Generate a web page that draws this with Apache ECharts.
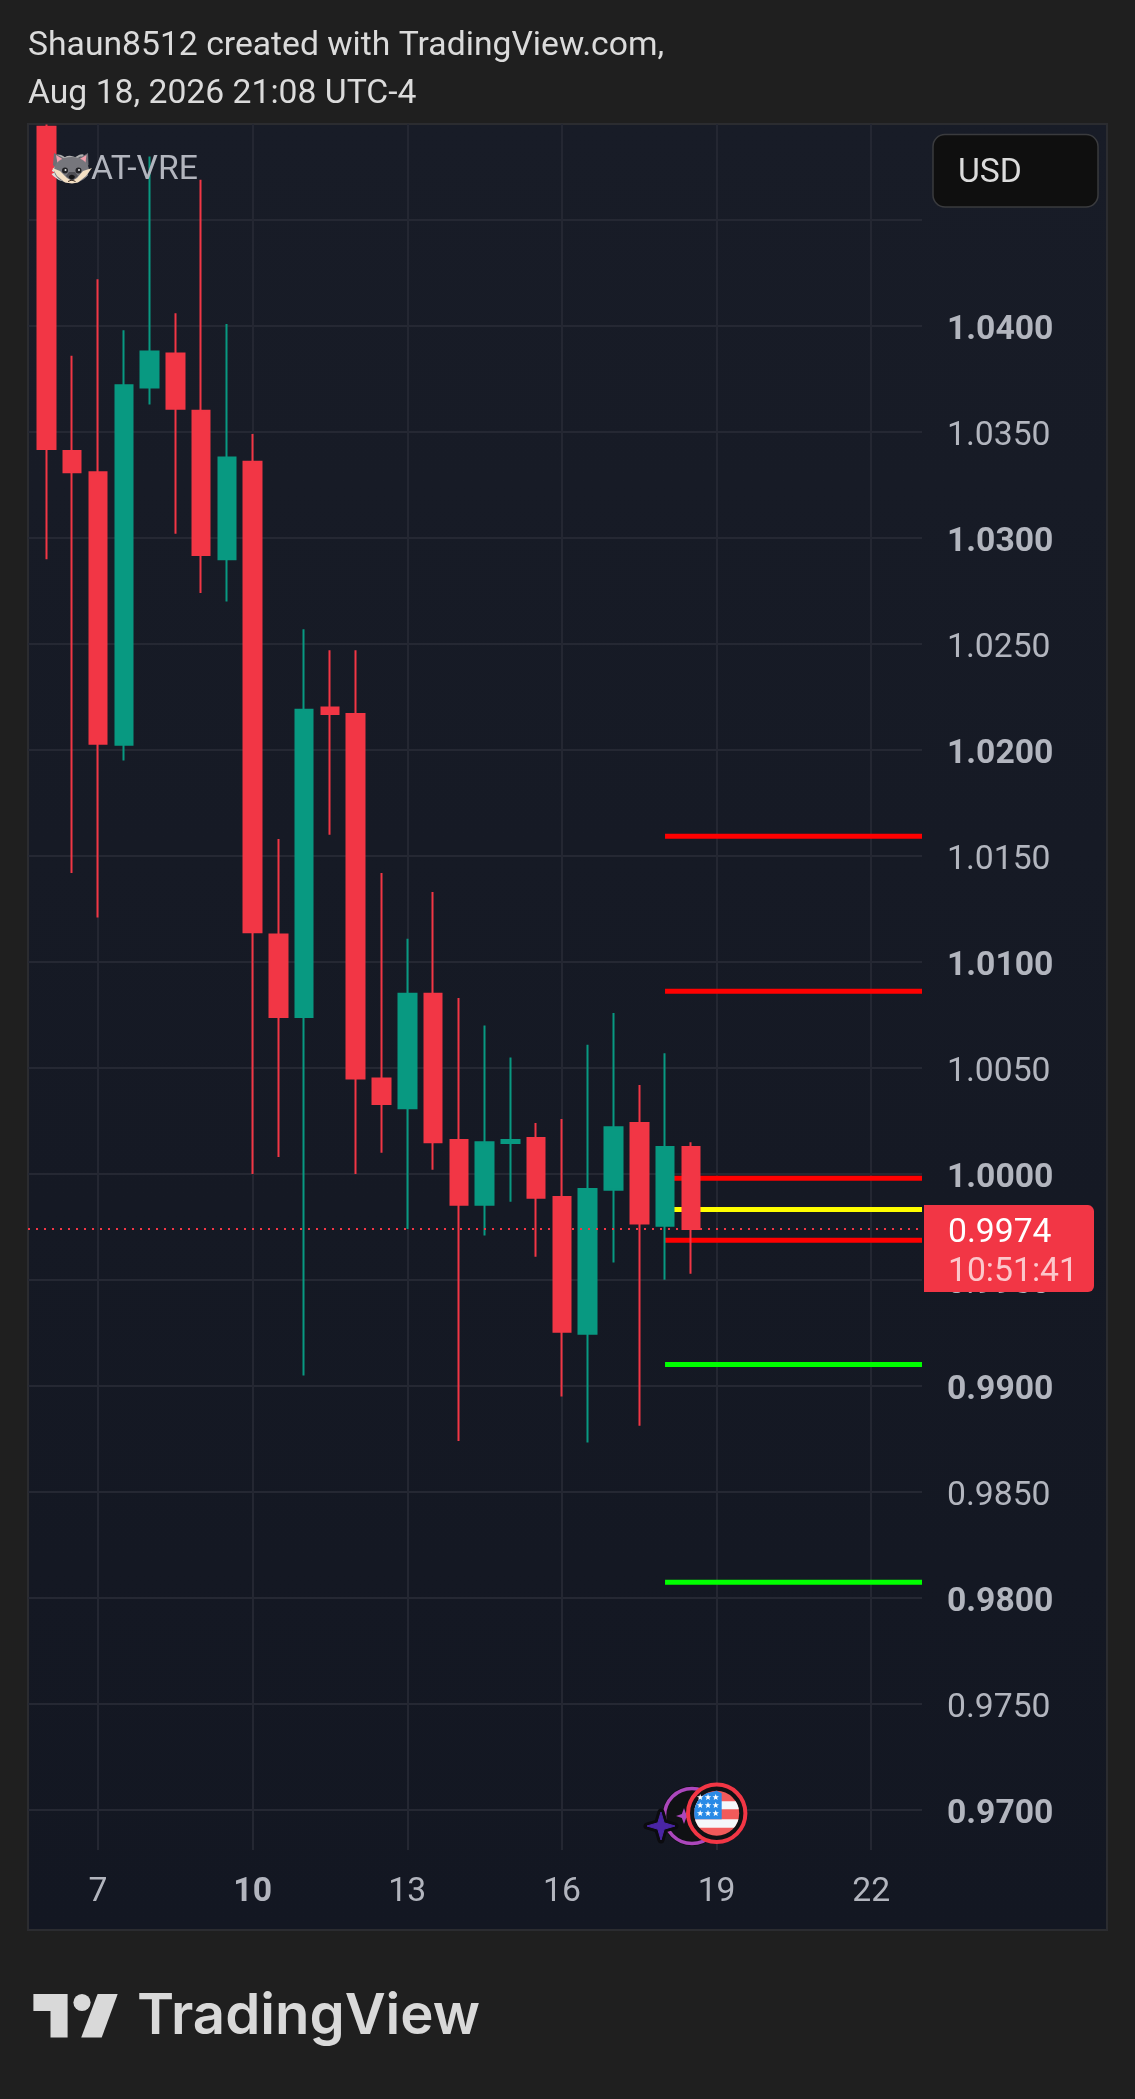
<!DOCTYPE html>
<html><head><meta charset="utf-8">
<style>html,body{margin:0;padding:0;background:#1f1f1f}#c{width:1135px;height:2099px}</style>
<script src="https://cdn.jsdelivr.net/npm/echarts@6/dist/echarts.min.js"></script>
</head><body><div id="c"></div>
<script>
// 12-hour candles, x position in days of the month
const days   = [6,6.5,7,7.5,8,8.5,9,9.5,10,10.5,11,11.5,12,12.5,13,13.5,14,14.5,15,15.5,16,16.5,17,17.5,18,18.5];
const opens  = [1.0494,1.0341,1.0331,1.02025,1.0371,1.0387,1.0360,1.0290,1.0336,1.0113,1.0074,1.0220,1.0217,1.0045,1.0031,1.0085,1.0016,0.99855,1.00146,1.0017,0.99892,0.99247,0.99926,1.0024,0.99756,1.00127];
const closes = [1.0342,1.0331,1.0203,1.0372,1.0388,1.0361,1.0292,1.0338,1.0114,1.0074,1.0219,1.0217,1.0045,1.0033,1.0085,1.0015,0.99855,1.0015,1.0016,0.99888,0.99256,0.99929,1.0022,0.99766,1.00127,0.9974];
const lows   = [1.0290,1.0142,1.0121,1.0195,1.0363,1.0302,1.0274,1.0270,1.0000,1.0008,0.9905,1.0160,1.0000,1.0010,0.9974,1.0002,0.9874,0.9971,0.99869,0.9961,0.9895,0.98733,0.99582,0.98813,0.99501,0.9953];
const highs  = [1.0495,1.0386,1.0422,1.0398,1.0480,1.0406,1.0469,1.0401,1.0349,1.0158,1.0257,1.0247,1.0247,1.0142,1.0111,1.0133,1.0083,1.0070,1.0055,1.0024,1.0026,1.0061,1.0076,1.0042,1.0057,1.0015];
const dayTicks = [7,10,13,16,19,22];
const boldDay = 10;
const priceTicks = [0.97,0.975,0.98,0.985,0.99,0.995,1.0,1.005,1.01,1.015,1.02,1.025,1.03,1.035,1.04];
const redLevels = [1.01593,1.00862,0.9998,0.99687];
const yellowLevels = [0.99833];
const greenLevels = [0.99102,0.98074];
const levelStart = 18, paneLeftDay = 5.642, paneRightDay = 22.985;
const paneTopPrice = 1.04953, paneBottomPrice = 0.96811;
const lastPrice = 0.9974;
const lastPriceText = '0.9974', countdownText = '10:51:41';
const titleLines = ['Shaun8512 created with TradingView.com,','Aug 18, 2026 21:08 UTC-4'];
const symbolText = '\u{1F99D}AT-VRE';
const currencyText = 'USD';
const logoText = 'TradingView';

const FONT = 'Roboto, sans-serif';
const FS = 33.7;
const chart = echarts.init(document.getElementById('c'), null, {renderer:'canvas'});
const levelSeries = (vals,color)=>vals.map(v=>({
  type:'line',z:3,silent:true,symbol:'none',animation:false,clip:true,
  lineStyle:{color,width:5,cap:'butt'},
  data:[[levelStart,v],[paneRightDay,v]]
}));
const option = {
  animation:false,
  backgroundColor:'#1f1f1f',
  grid:{left:28,width:894,top:114,height:1802,containLabel:false},
  xAxis:{type:'value',min:paneLeftDay,max:paneRightDay,
    axisLine:{show:false},axisTick:{show:false},splitLine:{show:false},
    axisLabel:{customValues:dayTicks,inside:true,margin:23,verticalAlign:'middle',showMinLabel:true,showMaxLabel:true,
      hideOverlap:false,
      formatter:v=>v===boldDay?`{b|${v}}`:`{r|${v}}`,
      rich:{b:{fontFamily:FONT,fontSize:FS,fontWeight:700,color:'#b2b5be'},
            r:{fontFamily:FONT,fontSize:FS,fontWeight:400,color:'#b2b5be'}}}},
  yAxis:{type:'value',position:'right',min:0.965,max:1.05,interval:0.005,
    axisLine:{show:false},axisTick:{show:false},
    splitLine:{show:true,showMinLine:false,showMaxLine:false,lineStyle:{color:'#252833',width:2}},
    axisLabel:{customValues:priceTicks,margin:25,align:'left',
      formatter:v=>{const bold=Math.round(v*10000)%100===0;return `{${bold?'b':'r'}|${v.toFixed(4)}}`;},
      rich:{b:{fontFamily:FONT,fontSize:FS,fontWeight:700,color:'#b2b5be',padding:[10,0,0,0]},
            r:{fontFamily:FONT,fontSize:FS,fontWeight:400,color:'#b2b5be',padding:[10,0,0,0]}}}},
  series:[
    {type:'line',z:1,silent:true,symbol:'none',data:[],
     markLine:{silent:true,symbol:'none',animation:false,label:{show:false},z:1,
       lineStyle:{color:'#242732',width:2,type:'solid'},
       data:dayTicks.map(d=>[{coord:[d,paneTopPrice]},{coord:[d,paneBottomPrice]}])}},
    ...levelSeries(redLevels,'#ff0000'),
    ...levelSeries(yellowLevels,'#ffff00'),
    ...levelSeries(greenLevels,'#00ff00'),
    {type:'candlestick',z:5,silent:true,clip:true,barWidth:18,
     encode:{x:0,y:[1,2,3,4]},
     itemStyle:{color:'#089981',color0:'#f23645',borderColor:'#089981',borderColor0:'#f23645',borderWidth:2},
     data:days.map((d,i)=>[d,opens[i],closes[i],lows[i],highs[i]])},
    {type:'line',z:6,silent:true,symbol:'none',
     lineStyle:{color:'#f23645',width:2,type:[2,6]},
     data:[[paneLeftDay,lastPrice],[paneRightDay,lastPrice]]}
  ]
};
chart.setOption(option);

const py = chart.convertToPixel({yAxisIndex:0},lastPrice);
function chord(cx,cy,r,y0,y1,xMax){ // polygon of a circle slice between y offsets
  const pts=[];const n=12;
  for(let i=0;i<=n;i++){const y=y0+(y1-y0)*i/n;const h=Math.sqrt(Math.max(0,r*r-y*y));pts.push([cx+(xMax!==undefined?Math.min(h,xMax):h),cy+y]);}
  for(let i=n;i>=0;i--){const y=y0+(y1-y0)*i/n;const h=Math.sqrt(Math.max(0,r*r-y*y));pts.push([cx-h,cy+y]);}
  return pts;
}
function star(cx,cy,R,r,n){const p=[];for(let i=0;i<n*2;i++){const a=-Math.PI/2+i*Math.PI/n;const q=i%2?r:R;p.push([cx+q*Math.cos(a),cy+q*Math.sin(a)]);}return p;}
const flagX=716.7,flagY=1813.3,flagR=22.5;
const tx=(t,x,y,fill,font,z)=>({type:'text',z:z||50,style:{text:t,x,y,fill,font,align:'left',verticalAlign:'middle'}});
const flagStars=[];
[-16,-8,0].forEach(dy=>[-16.5,-8.7,-1].forEach(dx=>flagStars.push({type:'polygon',z:47,shape:{points:star(flagX+dx,flagY+dy,3.4,1.4,5)},style:{fill:'#ffffff'}})));
const coon=[
 // ears
 {type:'polygon',z:51,shape:{points:[[54,153],[67,160],[60,172],[53,165]]},style:{fill:'#6f6f76'}},
 {type:'polygon',z:51,shape:{points:[[88,153],[76,160],[83,172],[88.5,165]]},style:{fill:'#6f6f76'}},
 {type:'polygon',z:52,shape:{points:[[56,155],[64,160],[58,166]]},style:{fill:'#f3a0ad'}},
 {type:'polygon',z:52,shape:{points:[[86.5,155],[78,160],[85,166]]},style:{fill:'#f3a0ad'}},
 // head
 {type:'ellipse',z:53,shape:{cx:71.5,cy:170,rx:17.5,ry:13},style:{fill:'#76767c'}},
 // cream cheeks and chin
 {type:'polygon',z:54,shape:{points:[[52.5,168],[60,171],[67,178],[72,181],[77,178],[83,171],[92,168],[86,176],[78,182.5],[72,183.5],[65,182.5],[57,176]]},style:{fill:'#f4e0c4'}},
 {type:'polygon',z:54,shape:{points:[[66,176],[72,181],[78,176],[75,172],[69,172]]},style:{fill:'#4f4f55'}},
 // eyes, nose
 {type:'circle',z:55,shape:{cx:65,cy:170.5,r:3},style:{fill:'#222226'}},
 {type:'circle',z:55,shape:{cx:78.5,cy:170.5,r:3},style:{fill:'#222226'}},
 {type:'circle',z:55,shape:{cx:65.5,cy:170,r:1},style:{fill:'#e8e8e8'}},
 {type:'circle',z:55,shape:{cx:79,cy:170,r:1},style:{fill:'#e8e8e8'}},
 {type:'ellipse',z:56,shape:{cx:71.8,cy:177,rx:3,ry:2.2},style:{fill:'#141416'}},
 {type:'polyline',z:56,shape:{points:[[68,181.5],[71.8,180],[75.5,181.5]]},style:{stroke:'#3a2a20',lineWidth:1,fill:'none'}}
];
const els=[
 {type:'rect',z:-10,shape:{x:28,y:124,width:1079,height:1806},
  style:{fill:{type:'linear',x:0,y:0,x2:0,y2:1,colorStops:[{offset:0,color:'#181c27'},{offset:1,color:'#131722'}]},stroke:'#2b2c30',lineWidth:2}},
 ...titleLines.map((t,i)=>tx(t,28,47+i*47.5,'#dbdbdb','400 '+FS+'px '+FONT)),
 tx(symbolText,49,171,'#b2b5be','400 '+FS+'px '+FONT),
 ...coon,
 // currency box
 {type:'rect',z:60,shape:{x:933,y:134.5,width:165,height:72.5,r:12},style:{fill:'#0f0f0f',stroke:'#3a3b3e',lineWidth:1.5}},
 tx(currencyText,958,174,'#dbdbdb','400 '+FS+'px '+FONT,61),
 // last price tag
 {type:'rect',z:60,shape:{x:924,y:py-24,width:170,height:87,r:[0,6,6,0]},style:{fill:'#f23645'}},
 tx(lastPriceText,948,py+4,'#ffffff','400 '+FS+'px '+FONT,61),
 tx(countdownText,948,py+43,'rgba(255,255,255,0.72)','400 '+FS+'px '+FONT,61),
 // event icons
 {type:'circle',z:40,shape:{cx:692,cy:1816,r:30},style:{fill:'#0d0e11'}},
 {type:'circle',z:40,shape:{cx:692,cy:1816,r:27.5},style:{fill:'#101114',stroke:'#ab47bc',lineWidth:3.5}},
 {type:'polygon',z:41,shape:{points:star(684,1816,8,3,4)},style:{fill:'#ab47bc'}},
 {type:'polygon',z:41,shape:{points:star(661,1826,14,4.5,4)},style:{fill:'#0b0b0f',stroke:'#0b0b0f',lineWidth:7,lineJoin:'round'}},
 {type:'polygon',z:42,shape:{points:star(661,1826,14,4.5,4)},style:{fill:'#4a25a5',stroke:'#4a25a5',lineWidth:1,lineJoin:'round'}},
 {type:'circle',z:43,shape:{cx:flagX,cy:flagY,r:28.7},style:{fill:'#101114',stroke:'#f23645',lineWidth:4}},
 {type:'circle',z:44,shape:{cx:flagX,cy:flagY,r:flagR},style:{fill:'#f25a5a'}},
 {type:'polygon',z:45,shape:{points:chord(flagX,flagY,flagR,-12,-4)},style:{fill:'#f5f7fa'}},
 {type:'polygon',z:45,shape:{points:chord(flagX,flagY,flagR,6,14.5)},style:{fill:'#f5f7fa'}},
 {type:'polygon',z:46,shape:{points:chord(flagX,flagY,flagR,-22.5,6,5)},style:{fill:'#2a8ae6'}},
 ...flagStars,
 // logo
 {type:'polygon',z:50,shape:{points:[[33.4,1994],[67.6,1994],[67.6,2037.5],[50.5,2037.5],[50.5,2011],[33.4,2011]]},style:{fill:'#d9d9d9'}},
 {type:'circle',z:50,shape:{cx:82,cy:2002.5,r:8.6},style:{fill:'#d9d9d9'}},
 {type:'polygon',z:50,shape:{points:[[97.6,1994],[117.7,1994],[101.7,2037.5],[81.2,2037.5]]},style:{fill:'#d9d9d9'}},
 tx(logoText,137,2017,'#d9d9d9','600 56.3px Inter, sans-serif')
];
chart.setOption({graphic:{elements:els}});
</script></body></html>
